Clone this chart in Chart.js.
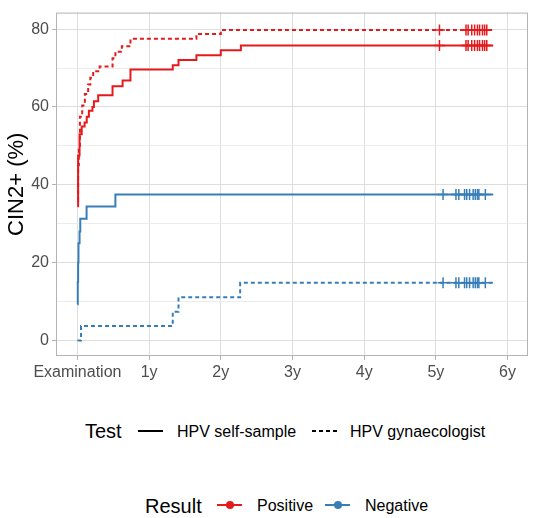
<!DOCTYPE html>
<html><head><meta charset="utf-8">
<script src="https://cdn.jsdelivr.net/npm/chart.js@4"></script>
<style>
html,body{margin:0;padding:0;background:#fff;}
#wrap{position:relative;width:535px;height:518px;overflow:hidden;font-family:"Liberation Sans",Arial,sans-serif;}
#cv{position:absolute;left:0;top:0;}
.t{position:absolute;white-space:nowrap;line-height:1;color:#000;}
.t20{font-size:20px;}
.t16{font-size:16px;}
.k{position:absolute;height:2px;}
.dot{position:absolute;width:8px;height:8px;border-radius:50%;}
</style></head><body>
<div id="wrap">
<canvas id="cv" width="535" height="400"></canvas>

<div class="t t20" style="left:85px;top:421px;">Test</div>
<div class="k" style="left:138px;top:430px;width:25px;background:#000;"></div>
<div class="t t16" style="left:177px;top:423.5px;">HPV self-sample</div>
<div class="k" style="left:312px;top:430px;width:25px;background:repeating-linear-gradient(to right,#000 0 4px,transparent 4px 7px);"></div>
<div class="t t16" style="left:350px;top:423.5px;">HPV gynaecologist</div>

<div class="t t20" style="left:145px;top:496px;">Result</div>
<div class="k" style="left:217px;top:503.5px;width:25px;background:#e41a1c;"></div>
<div class="dot" style="left:225.5px;top:500.5px;background:#e41a1c;"></div>
<div class="t t16" style="left:257px;top:497.5px;">Positive</div>
<div class="k" style="left:325px;top:503.5px;width:25px;background:#377eb8;"></div>
<div class="dot" style="left:333.5px;top:500.5px;background:#377eb8;"></div>
<div class="t t16" style="left:365px;top:497.5px;">Negative</div>
</div>
<script>
// ---- data (time in years since examination, cumulative CIN2+ %) ----
const xTickLabels = ["Examination", "1y", "2y", "3y", "4y", "5y", "6y"];
const yTickValues = [0, 20, 40, 60, 80];

const posSelfTime = [0, 0.01, 0.03, 0.06, 0.10, 0.13, 0.16, 0.21, 0.23, 0.29, 0.49, 0.63, 0.74, 1.33, 1.41, 1.66, 2.00, 2.28, 5.80];
const posSelfPct  = [34.5, 47.5, 53, 55, 56, 57.5, 59, 60, 61.5, 63, 65.3, 66.8, 69.6, 70.7, 72.1, 73.3, 74.6, 75.8, 75.8];

const posGynTime = [0, 0.01, 0.02, 0.035, 0.067, 0.104, 0.15, 0.18, 0.22, 0.31, 0.49, 0.53, 0.62, 0.74, 1.66, 2.00, 5.80];
const posGynPct  = [36, 45, 50, 57.5, 60.4, 63.3, 65.8, 67.5, 69.2, 70.4, 72.5, 74.2, 75.6, 77.5, 78.75, 79.8, 79.8];

const negSelfTime = [0, 0.005, 0.01, 0.015, 0.03, 0.04, 0.128, 0.53, 5.80];
const negSelfPct  = [9.3, 15, 20, 25, 28, 31.25, 34.4, 37.5, 37.5];

const negGynTime = [0, 0.05, 1.33, 1.41, 2.27, 5.80];
const negGynPct  = [0, 3.7, 7.4, 11.1, 14.8, 14.8];

const posCensorTime = [5.05, 5.42, 5.45, 5.50, 5.54, 5.58, 5.61, 5.65, 5.68, 5.71];
const negCensorTime = [5.10, 5.28, 5.32, 5.40, 5.43, 5.47, 5.52, 5.55, 5.58, 5.60, 5.69];

const RED = "#e41a1c", BLUE = "#377eb8";
const FONT = "'Liberation Sans', Arial, sans-serif";

function pts(t, v) { return t.map((x, i) => ({x: x, y: v[i]})); }
function censor(t, v) { const last = v[v.length - 1]; return t.map(x => ({x: x, y: last})); }

function curve(label, t, v, color, dashed) {
  return {label, data: pts(t, v), borderColor: color, borderWidth: 2, stepped: 'before',
    pointRadius: 0, fill: false, borderDash: dashed ? [4, 3] : [], order: 2};
}
function marks(label, t, v, color) {
  return {label, data: censor(t, v), showLine: false, pointStyle: 'cross', pointRadius: 5.5,
    pointBorderColor: color, pointBorderWidth: 1.5, borderColor: color, order: 1};
}

const frame = {
  id: 'frame',
  afterDraw(chart) {
    const a = chart.chartArea, c = chart.ctx;
    c.save(); c.strokeStyle = '#b3b3b3'; c.lineWidth = 1;
    c.strokeRect(a.left + 0.5, a.top + 0.5, a.right - a.left - 1, a.bottom - a.top - 1);
    c.restore();
  }
};

new Chart(document.getElementById('cv'), {
  type: 'line',
  data: {
    datasets: [
      curve('Negative, self', negSelfTime, negSelfPct, BLUE, false),
      curve('Negative, gyn', negGynTime, negGynPct, BLUE, true),
      curve('Positive, self', posSelfTime, posSelfPct, RED, false),
      curve('Positive, gyn', posGynTime, posGynPct, RED, true),
      marks('neg self c', negCensorTime, negSelfPct, BLUE),
      marks('neg gyn c', negCensorTime, negGynPct, BLUE),
      marks('pos self c', posCensorTime, posSelfPct, RED),
      marks('pos gyn c', posCensorTime, posGynPct, RED)
    ]
  },
  options: {
    responsive: false, animation: false, devicePixelRatio: 1,
    layout: {padding: {top: 3, right: 5, left: 0, bottom: 0}},
    plugins: {legend: {display: false}, tooltip: {enabled: false}},
    scales: {
      x: {
        type: 'linear', min: -0.2986, max: 6.285,
        afterBuildTicks: s => { s.ticks = xTickLabels.map((l, i) => ({value: i})); },
        afterFit: s => { s.height = 44; },
        ticks: {callback: (v, i) => xTickLabels[i], color: '#4d4d4d', padding: 3,
          font: {family: FONT, size: 16}, maxRotation: 0, autoSkip: false},
        grid: {color: '#dedede', lineWidth: 1, tickLength: 4, tickColor: '#b3b3b3'},
        border: {display: false}
      },
      y: {
        type: 'linear', min: -4, max: 84.25,
        afterBuildTicks: s => {
          const all = [];
          for (let v = 0; v <= 80; v += 10) all.push({value: v});
          s.ticks = all;
        },
        afterFit: s => { s.width = 56; },
        ticks: {callback: v => yTickValues.includes(v) ? String(v) : '', color: '#4d4d4d', padding: 3,
          font: {family: FONT, size: 16}, autoSkip: false},
        grid: {
          color: c => (c.tick && yTickValues.includes(c.tick.value)) ? '#dedede' : '#ececec',
          tickColor: c => (c.tick && yTickValues.includes(c.tick.value)) ? '#b3b3b3' : 'rgba(0,0,0,0)',
          lineWidth: 1, tickLength: 4
        },
        border: {display: false},
        title: {display: true, text: 'CIN2+ (%)', color: '#000', font: {family: FONT, size: 22},
          padding: {top: 4, bottom: 0}}
      }
    }
  },
  plugins: [frame]
});
</script>
</body></html>
